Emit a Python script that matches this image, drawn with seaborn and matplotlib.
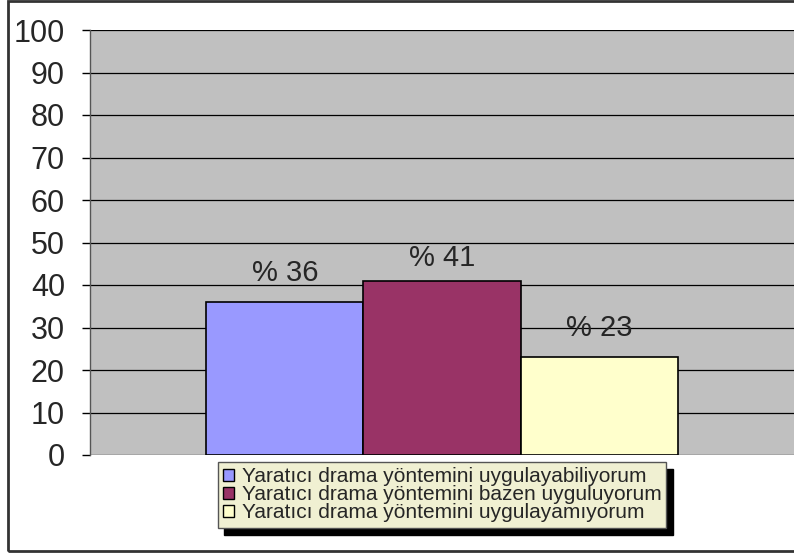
import matplotlib
matplotlib.use("Agg")
import matplotlib.pyplot as plt
import seaborn as sns
import pandas as pd
from matplotlib.patches import Rectangle

# veriler
kategoriler = [
    "Yaratıcı drama yöntemini uygulayabiliyorum",
    "Yaratıcı drama yöntemini bazen uyguluyorum",
    "Yaratıcı drama yöntemini uygulayamıyorum",
]
yuzdeler = [36, 41, 23]
renkler = ["#9999FF", "#993366", "#FFFFCC"]
etiketler = ["% 36", "% 41", "% 23"]
yticks = [0, 10, 20, 30, 40, 50, 60, 70, 80, 90, 100]

df = pd.DataFrame({"grup": [""] * 3, "kategori": kategoriler, "yuzde": yuzdeler})

sns.set_style("white")
plt.rcParams["font.family"] = ["Liberation Sans", "DejaVu Sans"]

fig = plt.figure(figsize=(7.94, 5.54), dpi=100)
ax = fig.add_axes([90 / 794, 99 / 554, 704 / 794, 425 / 554])
ax.set_facecolor("#C0C0C0")

sns.barplot(data=df, x="grup", y="yuzde", hue="kategori", hue_order=kategoriler,
            palette=renkler, width=0.67, edgecolor="black", linewidth=1.2,
            saturation=1, ax=ax, zorder=3)

# excel etiketleri tam hizali degil
for cont, lab, pad in zip(ax.containers, etiketler, [11, 6, 11]):
    ax.bar_label(cont, labels=[lab], padding=pad, fontsize=21)

ax.set_ylim(0, 100)
ax.set_yticks(yticks)
ax.tick_params(axis="y", labelsize=22, length=6, width=1, color="black", direction="out", left=True, pad=12)
ax.set_xticks([])
ax.set_xlabel("")
ax.set_ylabel("")
ax.yaxis.grid(True, color="black", linewidth=0.9, zorder=0)
ax.set_axisbelow(True)
for s in ["top", "right", "bottom"]:
    ax.spines[s].set_visible(False)
ax.spines["left"].set_color("#555555")
ax.spines["left"].set_linewidth(1)

leg = ax.legend(loc="upper center", bbox_to_anchor=(0.5, -0.017), fontsize=15,
                frameon=True, shadow={"color": "black", "alpha": 1, "ox": 5, "oy": -5},
                fancybox=False, facecolor="#F0F0D2", edgecolor="#555555", handlelength=0.55,
                handleheight=0.55, handletextpad=0.35, labelspacing=-0.05,
                borderpad=0.25, borderaxespad=0)
leg.get_frame().set_linewidth(1)
for h in leg.legend_handles:
    h.set_edgecolor("black")
    h.set_linewidth(1)

# dış çerçeve
fig.patches.append(Rectangle((8 / 794, 3 / 554), 800 / 794, 550 / 554, transform=fig.transFigure,
                             fill=False, edgecolor="#333333", linewidth=2))

fig.savefig("out.png", dpi=100)
